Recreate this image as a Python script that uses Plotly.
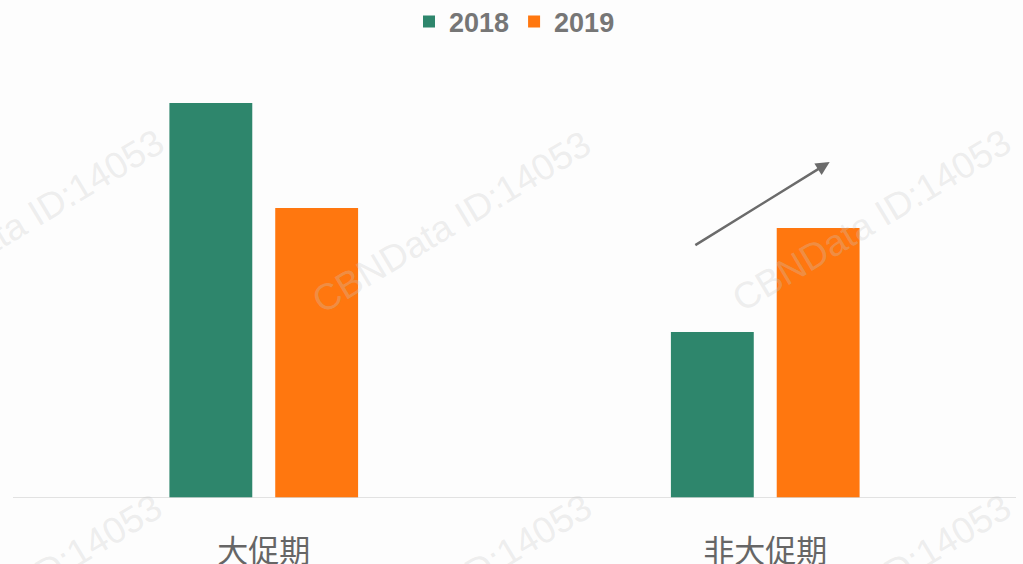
import plotly.graph_objects as go

# ---- data ----
categories = ["大促期", "非大促期"]
series_names = ["2018", "2019"]
values_2018 = [395, 166]
values_2019 = [290, 270]
colors = ["#2e866c", "#ff770f"]

# trend arrow (data coordinates: category index, value)
arrow_tail = [0.8576, 252]
arrow_head = [1.1285, 336]

watermark_text = "CBNData ID:14053"
# watermark centres in pixel space of the 1023x564 canvas
wm_px = [(24, 220), (451, 222), (872, 220), (22, 585), (452, 585), (872, 585)]

W, H = 1023, 564
ml, mr, mt, mb = 12.5, 6.5, 78, 66
pw, ph = W - ml - mr, H - mt - mb

fig = go.Figure()
for name, vals, col in zip(series_names, [values_2018, values_2019], colors):
    fig.add_trace(go.Bar(name=name, x=categories, y=vals, marker=dict(color=col, line=dict(width=0))))

annotations = []
for (px, py) in wm_px:
    annotations.append(dict(
        x=(px - ml) / pw, y=(H - mb - py) / ph, xref="paper", yref="paper",
        text=watermark_text, showarrow=False, textangle=-31,
        font=dict(family="Liberation Sans, Arial", size=37, color="rgba(200,200,200,0.3)"),
        xanchor="center", yanchor="middle"))

annotations.append(dict(
    x=arrow_head[0], y=arrow_head[1], ax=arrow_tail[0], ay=arrow_tail[1],
    xref="x", yref="y", axref="x", ayref="y", text="", showarrow=True,
    arrowhead=2, arrowsize=1.1, arrowwidth=2.5, arrowcolor="#6b6b6b", standoff=0))

fig.update_layout(
    width=W, height=H,
    margin=dict(l=ml, r=mr, t=mt, b=mb, pad=0, autoexpand=False),
    paper_bgcolor="#fdfdfd", plot_bgcolor="#fdfdfd",
    barmode="group", bargap=0.578, bargroupgap=0.217,
    showlegend=True,
    legend=dict(orientation="h", x=0.5, xanchor="center", y=(H - mb - 22) / ph, yanchor="middle",
                font=dict(family="Liberation Sans, Arial", size=27, color="#767676", weight="bold"),
                itemwidth=30, bgcolor="rgba(0,0,0,0)", traceorder="normal"),
    xaxis=dict(showgrid=False, zeroline=False, showline=False, ticks="", automargin=False,
               tickfont=dict(family="Noto Sans CJK SC", size=31, color="#666666"),
               ticklabelstandoff=32),
    yaxis=dict(range=[0, ph], visible=False, showgrid=False, zeroline=False, automargin=False),
    shapes=[dict(type="line", xref="paper", yref="y", x0=0, x1=1, y0=0, y1=0,
                 line=dict(color="#d9d9d9", width=1.5), layer="above")],
    annotations=annotations,
)

fig.write_html(
    "out.html",
    config={"displayModeBar": False},
    post_script="document.body.style.margin='0';document.body.style.overflow='hidden';",
)
